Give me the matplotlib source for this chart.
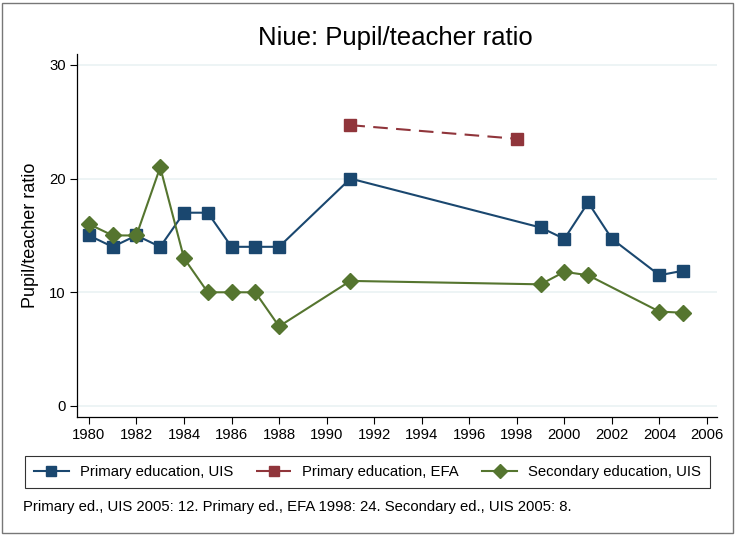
import numpy as np
import matplotlib
matplotlib.use('Agg')
import matplotlib.pyplot as plt
from matplotlib.patches import Rectangle

plt.rcParams['font.family'] = ['Liberation Sans', 'DejaVu Sans']

# data
prim_uis_years = [1980, 1981, 1982, 1983, 1984, 1985, 1986, 1987, 1988, 1991,
                  1999, 2000, 2001, 2002, 2004, 2005]
prim_uis = [15, 14, 15, 14, 17, 17, 14, 14, 14, 20,
            15.7, 14.7, 17.9, 14.7, 11.5, 11.9]
prim_efa_years = [1991, 1998]
prim_efa = [24.7, 23.5]
sec_uis_years = [1980, 1981, 1982, 1983, 1984, 1985, 1986, 1987, 1988, 1991,
                 1999, 2000, 2001, 2004, 2005]
sec_uis = [16, 15, 15, 21, 13, 10, 10, 10, 7, 11,
           10.7, 11.8, 11.5, 8.3, 8.2]

x_ticks = list(range(1980, 2007, 2))
y_ticks = [0, 10, 20, 30]

W, H = 736, 535
fig = plt.figure(figsize=(W / 100, H / 100), dpi=100)
ax = fig.add_axes([77 / W, 1 - 417 / H, (717 - 77) / W, (417 - 54) / H])

blue = '#1a476f'
red = '#90353b'
green = '#55752f'

ax.plot(prim_uis_years, prim_uis, '-s', color=blue, lw=1.5, ms=8.5,
        label='Primary education, UIS')
ax.plot(prim_efa_years, prim_efa, '--s', color=red, lw=1.5, ms=8.5,
        dashes=(7, 4), label='Primary education, EFA')
ax.plot(sec_uis_years, sec_uis, '-D', color=green, lw=1.5, ms=8.5,
        label='Secondary education, UIS')

ax.set_xlim(1979.5, 2006.42)
ax.set_ylim(-0.97, 30.96)
ax.set_xticks(x_ticks)
ax.set_yticks(y_ticks)
ax.tick_params(labelsize=10.7, length=5, width=0.8, color='black', pad=3)
for s in ['top', 'right']:
    ax.spines[s].set_visible(False)
for s in ['left', 'bottom']:
    ax.spines[s].set_linewidth(0.9)
ax.grid(axis='y', color='#eaf2f3', lw=1.2)
ax.set_axisbelow(True)

fig.text(31 / W, 1 - 235 / H, 'Pupil/teacher ratio', fontsize=13,
         rotation=90, ha='center', va='center')
fig.text(395 / W, 1 - 38 / H, 'Niue: Pupil/teacher ratio', fontsize=18.5,
         ha='center', va='center')

leg = fig.legend(loc='center', bbox_to_anchor=((25 + 710) / 2 / W, 1 - 472 / H),
                 ncol=3, fontsize=10.7, frameon=True, fancybox=False,
                 edgecolor='black', handlelength=2.35, handletextpad=0.75,
                 columnspacing=1.55, borderpad=0.6, markerscale=0.85)
leg.get_frame().set_linewidth(0.8)

fig.text(23 / W, 1 - 507 / H,
         'Primary ed., UIS 2005: 12. Primary ed., EFA 1998: 24. Secondary ed., UIS 2005: 8.',
         fontsize=10.7, ha='left', va='center')

fig.patches.append(Rectangle((2 / W, 2 / H), (W - 5) / W, (H - 5) / H,
                             transform=fig.transFigure, fill=False,
                             edgecolor='#777777', lw=1))

fig.savefig('out.png', dpi=100)
